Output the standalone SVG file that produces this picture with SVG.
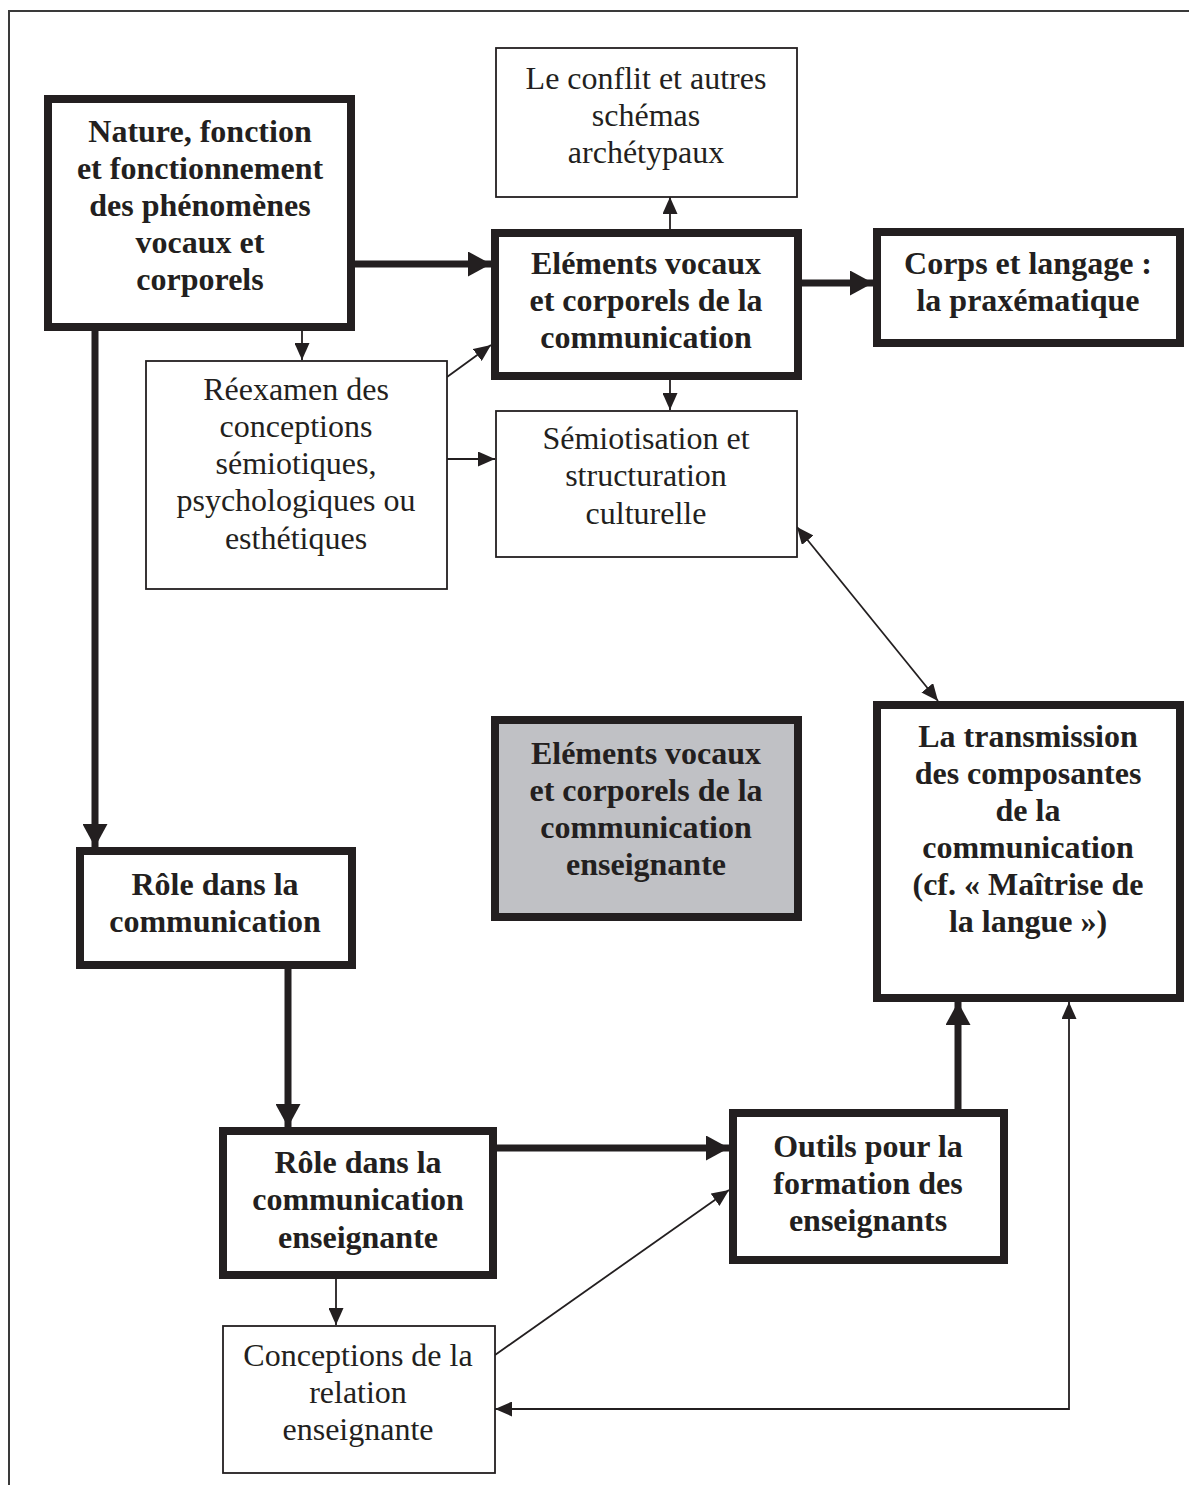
<svg xmlns="http://www.w3.org/2000/svg" width="1189" height="1485" viewBox="0 0 1189 1485">
<style>
.bg{fill:#ffffff}
.frame{fill:none;stroke:#3a3a3a;stroke-width:2}
.thick{fill:#ffffff;stroke:#231f20;stroke-width:8}
.thin{fill:#ffffff;stroke:#231f20;stroke-width:1.8}
.grey{fill:#c0c1c5}
.tb{font-family:"Liberation Serif","Times New Roman",serif;font-weight:bold;font-size:32px;fill:#231f20;text-anchor:middle}
.tr{font-family:"Liberation Serif","Times New Roman",serif;font-size:32px;fill:#231f20;text-anchor:middle}
.cthick{fill:none;stroke:#231f20;stroke-width:7;marker-end:url(#headBig)}
.cthin{fill:none;stroke:#231f20;stroke-width:1.8;marker-end:url(#headSmall)}
.cboth{fill:none;stroke:#231f20;stroke-width:1.8;marker-start:url(#headSmall);marker-end:url(#headSmall)}
</style>
<defs>
<marker id="headBig" markerUnits="userSpaceOnUse" markerWidth="23" markerHeight="25" refX="23" refY="12.5" orient="auto-start-reverse">
<path d="M0,0 L23,12.5 L0,25 z" fill="#231f20"/>
</marker>
<marker id="headSmall" markerUnits="userSpaceOnUse" markerWidth="17" markerHeight="15" refX="17" refY="7.5" orient="auto-start-reverse">
<path d="M0,0 L17,7.5 L0,15 z" fill="#231f20"/>
</marker>
</defs>
<rect class="bg" x="0" y="0" width="1189" height="1485"/>
<path class="frame" d="M9,1485 V11 H1189"/>

<g id="connectors">
<path class="cthick" d="M355,264 H491"/>
<path class="cthick" d="M802,283 H873"/>
<path class="cthick" d="M95,331 V847"/>
<path class="cthick" d="M288,969 V1127"/>
<path class="cthick" d="M497,1148 H729"/>
<path class="cthick" d="M958,1109 V1002"/>
<path class="cthin" d="M302,331 V360"/>
<path class="cthin" d="M670,229 V197"/>
<path class="cthin" d="M670,380 V410"/>
<path class="cthin" d="M447,377 L491,345"/>
<path class="cthin" d="M447,459 H495"/>
<path class="cboth" d="M797,527 L938,701"/>
<path class="cthin" d="M336,1279 V1325"/>
<path class="cthin" d="M495,1355 L729,1190"/>
<path class="cboth" d="M495,1409 H1069 V1002"/>
</g>

<g id="node-nature">
<rect class="thick" x="48" y="99" width="303" height="228"/>
<text class="tb" x="200" y="142">Nature, fonction</text>
<text class="tb" x="200" y="179">et fonctionnement</text>
<text class="tb" x="200" y="216">des phénomènes</text>
<text class="tb" x="200" y="253">vocaux et</text>
<text class="tb" x="200" y="290">corporels</text>
</g>

<g id="node-conflit">
<rect class="thin" x="496" y="48" width="301" height="149"/>
<text class="tr" x="646" y="89">Le conflit et autres</text>
<text class="tr" x="646" y="126">schémas</text>
<text class="tr" x="646" y="163">archétypaux</text>
</g>

<g id="node-elements">
<rect class="thick" x="495" y="233" width="303" height="143"/>
<text class="tb" x="646" y="274">Eléments vocaux</text>
<text class="tb" x="646" y="311">et corporels de la</text>
<text class="tb" x="646" y="348">communication</text>
</g>

<g id="node-corps">
<rect class="thick" x="877" y="232" width="303" height="111"/>
<text class="tb" x="1028" y="274">Corps et langage :</text>
<text class="tb" x="1028" y="311">la praxématique</text>
</g>

<g id="node-reexamen">
<rect class="thin" x="146" y="361" width="301" height="228"/>
<text class="tr" x="296" y="400">Réexamen des</text>
<text class="tr" x="296" y="437">conceptions</text>
<text class="tr" x="296" y="474">sémiotiques,</text>
<text class="tr" x="296" y="511">psychologiques ou</text>
<text class="tr" x="296" y="549">esthétiques</text>
</g>

<g id="node-semiotisation">
<rect class="thin" x="496" y="411" width="301" height="146"/>
<text class="tr" x="646" y="449">Sémiotisation et</text>
<text class="tr" x="646" y="486">structuration</text>
<text class="tr" x="646" y="524">culturelle</text>
</g>

<g id="node-grey">
<rect class="thick grey" x="495" y="720" width="303" height="197"/>
<text class="tb" x="646" y="764">Eléments vocaux</text>
<text class="tb" x="646" y="801">et corporels de la</text>
<text class="tb" x="646" y="838">communication</text>
<text class="tb" x="646" y="875">enseignante</text>
</g>

<g id="node-transmission">
<rect class="thick" x="877" y="705" width="303" height="293"/>
<text class="tb" x="1028" y="747">La transmission</text>
<text class="tb" x="1028" y="784">des composantes</text>
<text class="tb" x="1028" y="821">de la</text>
<text class="tb" x="1028" y="858">communication</text>
<text class="tb" x="1028" y="895">(cf. « Maîtrise de</text>
<text class="tb" x="1028" y="932">la langue »)</text>
</g>

<g id="node-role">
<rect class="thick" x="80" y="851" width="272" height="114"/>
<text class="tb" x="215" y="895">Rôle dans la</text>
<text class="tb" x="215" y="932">communication</text>
</g>

<g id="node-role-ens">
<rect class="thick" x="223" y="1131" width="270" height="144"/>
<text class="tb" x="358" y="1173">Rôle dans la</text>
<text class="tb" x="358" y="1210">communication</text>
<text class="tb" x="358" y="1248">enseignante</text>
</g>

<g id="node-outils">
<rect class="thick" x="733" y="1113" width="271" height="147"/>
<text class="tb" x="868" y="1157">Outils pour la</text>
<text class="tb" x="868" y="1194">formation des</text>
<text class="tb" x="868" y="1231">enseignants</text>
</g>

<g id="node-conceptions">
<rect class="thin" x="223" y="1326" width="272" height="147"/>
<text class="tr" x="358" y="1366">Conceptions de la</text>
<text class="tr" x="358" y="1403">relation</text>
<text class="tr" x="358" y="1440">enseignante</text>
</g>
</svg>
